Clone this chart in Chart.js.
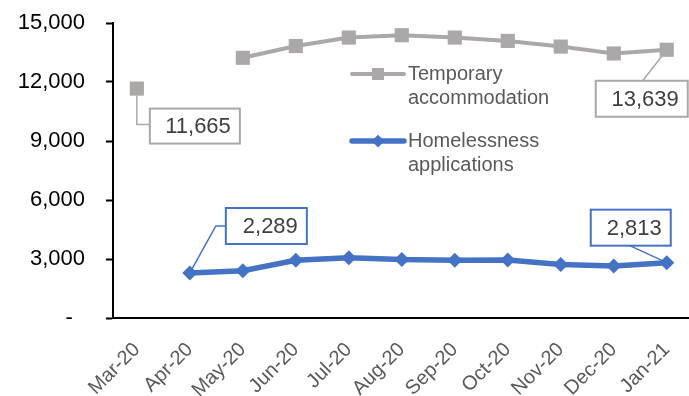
<!DOCTYPE html>
<html>
<head>
<meta charset="utf-8">
<script src="https://cdn.jsdelivr.net/npm/chart.js@4"></script>
<style>
  html, body { margin: 0; padding: 0; background: #fff; overflow: hidden; }
</style>
</head>
<body>
<canvas id="housing-chart" width="689" height="396"></canvas>
<script>
const months = ["Mar-20", "Apr-20", "May-20", "Jun-20", "Jul-20", "Aug-20", "Sep-20", "Oct-20", "Nov-20", "Dec-20", "Jan-21"];
const temporaryAccommodation = [11665, null, 13230, 13830, 14260, 14380, 14260, 14090, 13800, 13450, 13639];
const homelessnessApplications = [null, 2289, 2400, 2940, 3060, 2970, 2940, 2950, 2720, 2640, 2813];
const yTicks = [0, 3000, 6000, 9000, 12000, 15000];

const GREY = "#aba8a7";
const BLUE = "#4472c4";
const FONT = "'Liberation Sans', Arial, sans-serif";

const toPoints = values => values.map((v, i) => ({ x: i, y: v }));
const fmt = v => v.toLocaleString("en-US");

// boxed value labels with a leader line back to the point (offsets relative to the point)
const calloutPlugin = {
    id: "callouts",
    afterDatasetsDraw(chart, args, opts) {
        const ctx = chart.ctx;
        opts.items.forEach(item => {
            const ds = chart.data.datasets[item.dataset];
            const pt = chart.getDatasetMeta(item.dataset).data[item.index];
            const value = ds.data[item.index].y;
            ctx.save();
            ctx.strokeStyle = ds.borderColor;
            ctx.lineWidth = 1.5;
            ctx.beginPath();
            item.leader.forEach(([dx, dy], k) => {
                if (k) ctx.lineTo(pt.x + dx, pt.y + dy);
                else ctx.moveTo(pt.x + dx, pt.y + dy);
            });
            ctx.stroke();
            const [bx, by, bw, bh] = item.box;
            ctx.fillStyle = "#fff";
            ctx.fillRect(pt.x + bx, pt.y + by, bw, bh);
            ctx.lineWidth = 2;
            ctx.strokeRect(pt.x + bx, pt.y + by, bw, bh);
            ctx.fillStyle = "#404040";
            ctx.font = "22px " + FONT;
            ctx.textAlign = "right";
            ctx.textBaseline = "middle";
            ctx.fillText(fmt(value), pt.x + bx + bw - 9, pt.y + by + bh / 2 + 1);
            ctx.restore();
        });
    }
};

// legend drawn inside the plot area, two-line labels
const legendPlugin = {
    id: "insideLegend",
    afterDraw(chart, args, opts) {
        const ctx = chart.ctx;
        chart.data.datasets.forEach((ds, i) => {
            const x = opts.left;
            const y = opts.top + i * opts.gap;
            ctx.save();
            ctx.strokeStyle = ds.borderColor;
            ctx.lineWidth = ds.borderWidth;
            ctx.lineCap = "round";
            ctx.beginPath();
            ctx.moveTo(x, y);
            ctx.lineTo(x + opts.lineLength, y);
            ctx.stroke();
            ctx.fillStyle = ds.backgroundColor;
            Chart.helpers.drawPoint(ctx, {
                pointStyle: ds.pointStyle,
                radius: ds.pointRadius * 0.85,
                borderWidth: 0
            }, x + opts.lineLength / 2, y);
            ctx.fillStyle = "#595959";
            ctx.font = "20px " + FONT;
            ctx.textAlign = "left";
            ctx.textBaseline = "middle";
            ds.label.forEach((line, k) => {
                ctx.fillText(line, x + opts.lineLength + 4, y + k * 24);
            });
            ctx.restore();
        });
    }
};

new Chart(document.getElementById("housing-chart"), {
    type: "line",
    data: {
        datasets: [
            {
                label: ["Temporary", "accommodation"],
                data: toPoints(temporaryAccommodation),
                borderColor: GREY,
                backgroundColor: GREY,
                borderWidth: 4,
                pointStyle: "rect",
                pointRadius: 10,
                pointBorderWidth: 0,
                spanGaps: false
            },
            {
                label: ["Homelessness", "applications"],
                data: toPoints(homelessnessApplications),
                borderColor: BLUE,
                backgroundColor: BLUE,
                borderWidth: 5.5,
                pointStyle: "rectRot",
                pointRadius: 7.5,
                pointBorderWidth: 0,
                spanGaps: false
            }
        ]
    },
    options: {
        responsive: false,
        animation: false,
        // no automatic padding: the x axis line runs to the right edge of the canvas
        layout: { autoPadding: false, padding: { top: 23, right: 0, bottom: 0, left: 0 } },
        plugins: {
            legend: { display: false },
            tooltip: { enabled: false },
            callouts: {
                items: [
                    { dataset: 0, index: 0, box: [13, 20, 90, 35], leader: [[0, 7], [0, 36], [13, 36]] },
                    { dataset: 0, index: 10, box: [-71, 31, 92, 36], leader: [[-24, 31], [0, 0]] },
                    { dataset: 1, index: 1, box: [36, -65, 81, 36], leader: [[36, -47], [26, -47], [0, 0]] },
                    { dataset: 1, index: 10, box: [-76, -53, 80, 36], leader: [[-37, -17], [0, 0]] }
                ]
            },
            insideLegend: { left: 352, top: 74, gap: 67, lineLength: 52 }
        },
        scales: {
            x: {
                type: "linear",
                min: -0.45,
                max: 10.42,
                afterBuildTicks: scale => { scale.ticks = months.map((_, i) => ({ value: i })); },
                afterFit: scale => {
                    scale.height = 78;
                    scale.paddingLeft = 0;
                    scale.paddingRight = 0;
                },
                grid: { display: false },
                border: { color: "#000", width: 2 },
                ticks: {
                    callback: v => months[v],
                    autoSkip: false,
                    minRotation: 45,
                    maxRotation: 45,
                    padding: 12,
                    color: "#595959",
                    font: { family: FONT, size: 20 }
                }
            },
            y: {
                min: 0,
                max: 15000,
                afterBuildTicks: scale => { scale.ticks = yTicks.map(v => ({ value: v })); },
                afterFit: scale => {
                    scale.width = 113;
                    scale.paddingTop = 0;
                    scale.paddingBottom = 0;
                },
                grid: { drawOnChartArea: false, tickLength: 7, tickColor: "#000", tickWidth: 2 },
                border: { color: "#000", width: 2 },
                ticks: {
                    callback: v => (v === 0 ? "-  " : fmt(v)),
                    padding: 21,
                    color: "#000",
                    font: { family: FONT, size: 22 }
                }
            }
        }
    },
    plugins: [calloutPlugin, legendPlugin]
});
</script>
</body>
</html>
